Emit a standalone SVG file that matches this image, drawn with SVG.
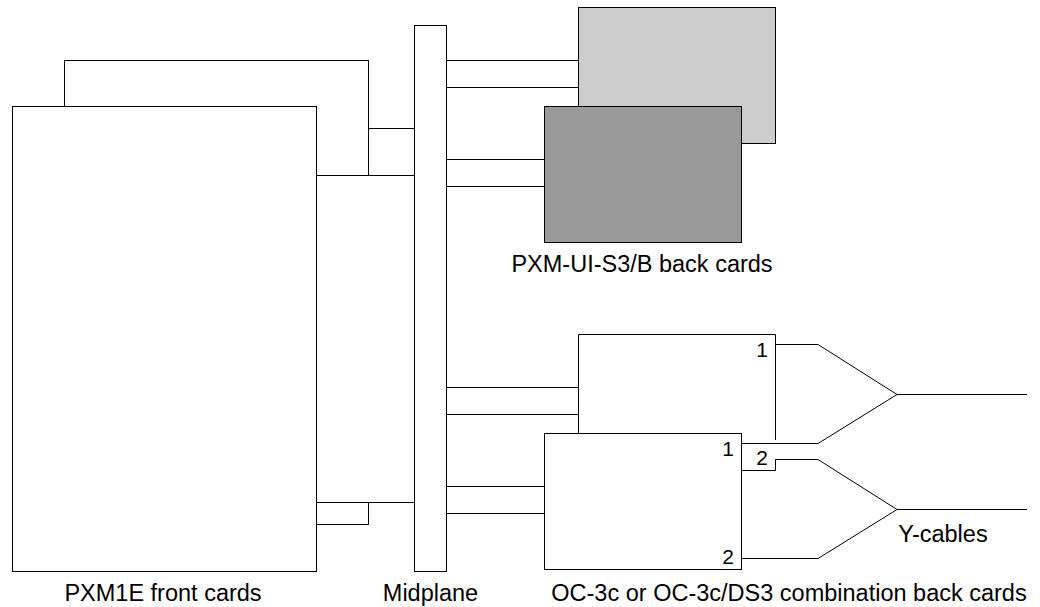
<svg xmlns="http://www.w3.org/2000/svg" width="1040" height="607" viewBox="0 0 1040 607">
<style>
.s{fill:#fff;stroke:#000;stroke-width:1}
.n{fill:none;stroke:#000;stroke-width:1}
.w{fill:#fff;stroke:none}
.t{font-family:"Liberation Sans",Arial,sans-serif;font-size:23.5px;fill:#000;text-anchor:middle}
.p{font-family:"Liberation Sans",Arial,sans-serif;font-size:21px;fill:#000;text-anchor:middle}
</style>
<rect width="1040" height="607" fill="#fff"/>
<g id="front-card-rear">
<rect class="s" x="64.5" y="60.5" width="304" height="464"/>
<rect class="s" x="368.5" y="128.5" width="46" height="300"/>
</g>
<g id="front-card">
<rect class="s" x="12.5" y="106.5" width="304" height="465"/>
<rect class="s" x="316.5" y="175.5" width="98" height="327"/>
</g>
<g id="midplane">
<rect class="s" x="414.5" y="25.5" width="32" height="546"/>
</g>
<g id="connectors">
<path class="n" d="M447 60.5H578M447 87.5H578M447 159.5H544M447 186.5H544"/>
<path class="n" d="M447 387.5H578M447 414.5H578M447 486.5H544M447 513.5H544"/>
</g>
<g id="pxm-ui-rear">
<rect x="578.5" y="7.5" width="197" height="136" fill="#cccccc" stroke="#000" stroke-width="1"/>
</g>
<g id="pxm-ui-front">
<rect x="544.5" y="106.5" width="197" height="136" fill="#999999" stroke="#000" stroke-width="1"/>
</g>
<text class="t" x="642" y="272">PXM-UI-S3/B back cards</text>
<g id="oc3-upper">
<rect class="w" x="578.5" y="334.5" width="197" height="136"/>
<path class="n" d="M775.5 440V334.5H578.5V470.5H775.5V459"/>
<text class="p" x="762" y="357">1</text>
<text class="p" x="762" y="465">2</text>
</g>
<g id="oc3-lower">
<rect class="s" x="544.5" y="433.5" width="197" height="136"/>
<text class="p" x="728" y="456">1</text>
<text class="p" x="728" y="564">2</text>
</g>
<g id="y-cables">
<path class="n" d="M776 344.5H818L897 394.5H1027M742 443.5H818L897 394.5"/>
<path class="n" d="M776 459.5H818L897 509.5H1027M742 558.5H818L897 509.5"/>
</g>
<text class="t" x="943" y="542">Y-cables</text>
<text class="t" x="163" y="601">PXM1E front cards</text>
<text class="t" x="430.5" y="601">Midplane</text>
<text class="t" x="789" y="601">OC-3c or OC-3c/DS3 combination back cards</text>
</svg>
